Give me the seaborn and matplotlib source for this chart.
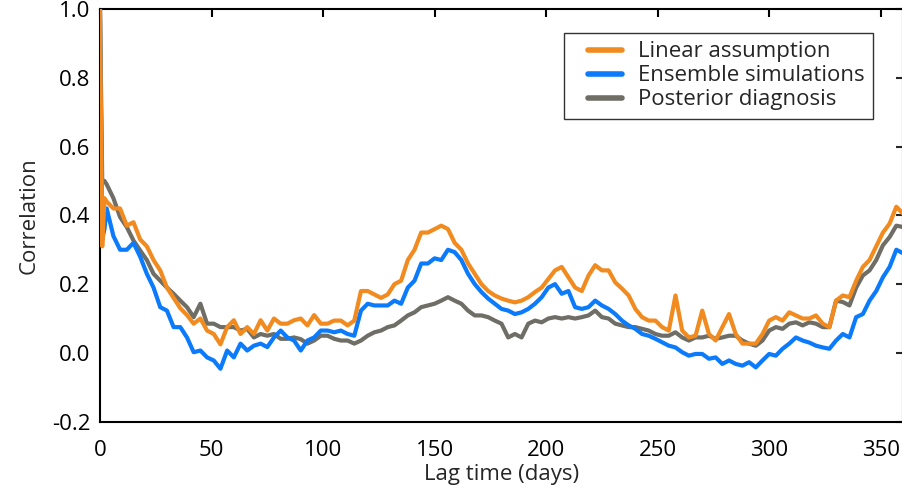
import numpy as np
import pandas as pd
import matplotlib
matplotlib.use("Agg")
import matplotlib.pyplot as plt
import seaborn as sns
from matplotlib.lines import Line2D
from matplotlib.legend_handler import HandlerLine2D

# lag in days: first three days, then every third day
lag_days = [0, 1, 2] + list(range(3, 361, 3))

linear = [1.0, 0.31, 0.45,
          0.44, 0.42, 0.42, 0.37, 0.38, 0.33, 0.31, 0.27, 0.24, 0.19,
          0.16, 0.13, 0.11, 0.085, 0.10, 0.065, 0.055, 0.025, 0.075, 0.095,
          0.055, 0.075, 0.055, 0.095, 0.065, 0.10, 0.085, 0.085, 0.095, 0.10,
          0.08, 0.11, 0.085, 0.085, 0.094, 0.094, 0.08, 0.094, 0.18, 0.18,
          0.17, 0.16, 0.17, 0.20, 0.21, 0.27, 0.30, 0.35, 0.35, 0.36,
          0.37, 0.36, 0.32, 0.30, 0.26, 0.23, 0.20, 0.18, 0.167, 0.158,
          0.152, 0.147, 0.152, 0.162, 0.177, 0.19, 0.215, 0.24, 0.25, 0.22,
          0.19, 0.18, 0.225, 0.255, 0.24, 0.24, 0.205, 0.187, 0.167, 0.128,
          0.104, 0.094, 0.094, 0.075, 0.065, 0.167, 0.065, 0.045, 0.05, 0.123,
          0.055, 0.036, 0.075, 0.113, 0.055, 0.027, 0.027, 0.027, 0.055, 0.094,
          0.104, 0.094, 0.118, 0.109, 0.10, 0.10, 0.109, 0.085, 0.075, 0.152,
          0.167, 0.162, 0.21, 0.25, 0.27, 0.31, 0.35, 0.376, 0.425, 0.405]

ensemble = [1.0, 0.33, 0.36,
            0.42, 0.34, 0.30, 0.30, 0.32, 0.28, 0.23, 0.19, 0.133, 0.123,
            0.075, 0.075, 0.045, 0.002, 0.007, -0.013, -0.022, -0.046, 0.007, -0.013,
            0.027, 0.007, 0.021, 0.027, 0.017, 0.045, 0.065, 0.045, 0.036, 0.007,
            0.036, 0.045, 0.065, 0.065, 0.06, 0.065, 0.055, 0.05, 0.123, 0.143,
            0.138, 0.138, 0.138, 0.152, 0.143, 0.19, 0.21, 0.26, 0.26, 0.275,
            0.27, 0.30, 0.293, 0.27, 0.23, 0.20, 0.177, 0.158, 0.143, 0.128,
            0.123, 0.113, 0.118, 0.128, 0.143, 0.162, 0.19, 0.20, 0.172, 0.18,
            0.133, 0.128, 0.133, 0.152, 0.138, 0.128, 0.113, 0.094, 0.08, 0.07,
            0.055, 0.05, 0.041, 0.031, 0.021, 0.016, 0.002, -0.008, -0.003, -0.003,
            -0.017, -0.013, -0.032, -0.022, -0.032, -0.037, -0.027, -0.042, -0.022, -0.003,
            -0.008, 0.012, 0.027, 0.045, 0.036, 0.03, 0.021, 0.016, 0.012, 0.036,
            0.055, 0.045, 0.104, 0.113, 0.152, 0.18, 0.22, 0.25, 0.30, 0.29]

posterior = [1.0, 0.50, 0.50,
             0.49, 0.45, 0.395, 0.366, 0.327, 0.298, 0.27, 0.23, 0.21, 0.19,
             0.172, 0.152, 0.133, 0.104, 0.143, 0.085, 0.085, 0.075, 0.075, 0.075,
             0.065, 0.07, 0.045, 0.055, 0.05, 0.055, 0.041, 0.041, 0.045, 0.04,
             0.027, 0.036, 0.05, 0.05, 0.041, 0.036, 0.036, 0.027, 0.036, 0.05,
             0.06, 0.065, 0.075, 0.08, 0.094, 0.109, 0.118, 0.133, 0.138, 0.143,
             0.152, 0.162, 0.152, 0.143, 0.123, 0.109, 0.109, 0.104, 0.094, 0.085,
             0.045, 0.055, 0.045, 0.085, 0.094, 0.089, 0.10, 0.104, 0.10, 0.104,
             0.10, 0.104, 0.109, 0.123, 0.104, 0.10, 0.085, 0.08, 0.075, 0.075,
             0.07, 0.065, 0.055, 0.05, 0.05, 0.06, 0.045, 0.036, 0.045, 0.045,
             0.05, 0.041, 0.045, 0.05, 0.05, 0.036, 0.027, 0.021, 0.036, 0.065,
             0.075, 0.07, 0.085, 0.089, 0.08, 0.089, 0.085, 0.075, 0.075, 0.152,
             0.148, 0.138, 0.19, 0.225, 0.24, 0.27, 0.313, 0.337, 0.37, 0.366]

labels = ["Linear assumption", "Ensemble simulations", "Posterior diagnosis"]
colors = ["#F18A1F", "#0B7BFB", "#6E6D66"]

yticks = [-0.2, 0.0, 0.2, 0.4, 0.6, 0.8, 1.0]
ytick_labels = ["-0.2", "0.0", "0.2", "0.4", "0.6", "0.8", "1.0"]

df = pd.DataFrame({
    "lag": lag_days * 3,
    "corr": linear + ensemble + posterior,
    "series": [labels[0]] * len(lag_days) + [labels[1]] * len(lag_days) + [labels[2]] * len(lag_days),
})

sns.set_style("white")
plt.rcParams["font.family"] = ["Open Sans", "DejaVu Sans"]
plt.rcParams["axes.unicode_minus"] = False

fig = plt.figure(figsize=(9.03, 4.88), dpi=100)
ax = fig.add_axes([100 / 903, (488 - 421.7) / 488, 803 / 903, 412.7 / 488])

sns.lineplot(data=df, x="lag", y="corr", hue="series", hue_order=labels,
             palette=colors, linewidth=3, estimator=None, errorbar=None, ax=ax)

# orange on top, grey at the bottom
for line, z in zip(ax.lines[:3], [4, 3, 2]):
    line.set_zorder(z)

ax.set_xlim(0, 360)
ax.set_ylim(-0.2, 1.0)
ax.set_xticks([0, 50, 100, 150, 200, 250, 300, 350])
ax.set_yticks(yticks)
ax.set_yticklabels(ytick_labels)

ax.tick_params(axis="x", direction="in", length=6, width=1.5, top=True,
               labelsize=16, pad=13, colors="black")
ax.tick_params(axis="y", direction="in", length=12, width=1.5, right=False,
               labelsize=16, pad=7, colors="black")
for s in ax.spines.values():
    s.set_linewidth(1.5)
    s.set_color("black")

# short ticks on the right side
sec = ax.secondary_yaxis("right")
sec.set_yticks(yticks)
sec.tick_params(direction="in", length=5, width=1.5, labelright=False)
sec.spines["right"].set_linewidth(1.5)

ax.set_xlabel("Lag time (days)", fontsize=16, labelpad=2)
ax.set_ylabel("Correlation", fontsize=16, labelpad=9)

handles, labs = ax.get_legend_handles_labels()
leg = ax.legend(handles, labs, loc="upper left", bbox_to_anchor=(0.578, 0.942),
                fontsize=16, frameon=True, fancybox=False, edgecolor="black",
                handlelength=2.23, handletextpad=0.72, labelspacing=0.135,
                borderpad=0.38, borderaxespad=0,
                handler_map={Line2D: HandlerLine2D(xpad=0.7)})
leg.get_frame().set_linewidth(1.0)
for h in leg.get_lines():
    h.set_linewidth(4)

fig.savefig("out.png", dpi=100)
